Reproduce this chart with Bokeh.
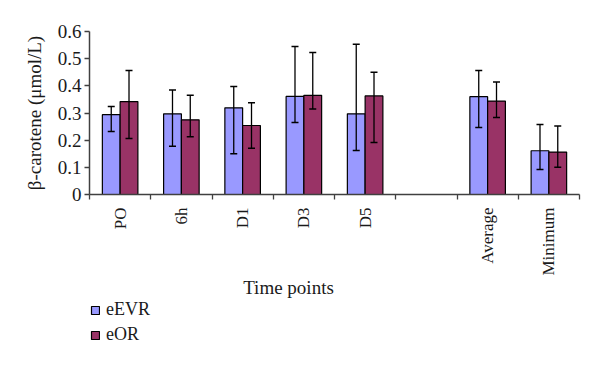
import math
from bokeh.plotting import figure
from bokeh.layouts import column
from bokeh.models import (ColumnDataSource, Whisker, TeeHead, FixedTicker, Range1d,
                          Legend, LegendItem, Label)
from bokeh.embed import file_html
from bokeh.resources import INLINE

slots = ["PO", "6h", "D1", "D3", "D5", "", "Average", "Minimum"]
categories = ["PO", "6h", "D1", "D3", "D5", "Average", "Minimum"]
series = ["eEVR", "eOR"]
colors = ["#9999FF", "#993366"]
evr_mean = [0.294, 0.297, 0.319, 0.361, 0.297, 0.360, 0.161]
evr_low = [0.232, 0.178, 0.150, 0.265, 0.162, 0.247, 0.092]
evr_high = [0.324, 0.385, 0.398, 0.545, 0.553, 0.456, 0.258]
or_mean = [0.342, 0.275, 0.254, 0.365, 0.363, 0.344, 0.156]
or_low = [0.206, 0.213, 0.170, 0.315, 0.191, 0.283, 0.100]
or_high = [0.456, 0.365, 0.338, 0.523, 0.450, 0.414, 0.252]
y_ticks = [0, 0.1, 0.2, 0.3, 0.4, 0.5, 0.6]
x_title = "Time points"
y_title = "β-carotene (μmol/L)"

FONT = "Liberation Serif"
TXT = "#1a1a1a"
AX = "#404040"
BW = 0.29
LEFT = 89
centers = [slots.index(c) + 0.5 for c in categories]

p = figure(width=592, height=278, output_backend="svg", toolbar_location=None,
           x_range=Range1d(0, len(slots)), y_range=Range1d(0, 0.6),
           min_border_left=LEFT, min_border_right=13, min_border_top=31,
           min_border_bottom=84)
p.outline_line_color = None
p.grid.visible = False
p.background_fill_color = "white"

s1 = ColumnDataSource(dict(x=[c - BW / 2 for c in centers], top=evr_mean,
                           lo=evr_low, hi=evr_high))
s2 = ColumnDataSource(dict(x=[c + BW / 2 for c in centers], top=or_mean,
                           lo=or_low, hi=or_high))
sources = [s1, s2]
for s, col in zip(sources, colors):
    p.vbar(x="x", top="top", width=BW, source=s, fill_color=col,
           line_color="black", line_width=1.2)
    w = Whisker(base="x", lower="lo", upper="hi", source=s, level="overlay",
                line_color="black", line_width=1.3,
                upper_head=TeeHead(size=7, line_color="black", line_width=1.5),
                lower_head=TeeHead(size=7, line_color="black", line_width=1.5))
    p.add_layout(w)

# x axis
xa = p.xaxis[0]
xa.ticker = FixedTicker(ticks=[i + 0.5 for i in range(len(slots))],
                        minor_ticks=list(range(len(slots) + 1)))
xa.major_label_overrides = {i + 0.5: s if s else " " for i, s in enumerate(slots)}
xa.major_tick_out = 0
xa.major_tick_in = 0
xa.minor_tick_out = 5
xa.minor_tick_in = 0
xa.minor_tick_line_color = AX
xa.minor_tick_line_width = 1.3
xa.major_label_orientation = math.pi / 2
xa.major_label_text_font = FONT
xa.major_label_text_font_size = "17px"
xa.major_label_text_color = TXT
xa.major_label_standoff = 8
xa.axis_line_color = AX
xa.axis_line_width = 1.5

# y axis
ya = p.yaxis[0]
ya.ticker = FixedTicker(ticks=y_ticks)
ya.major_label_overrides = {t: ("0" if t == 0 else f"{t:.1f}") for t in y_ticks}
ya.minor_tick_line_color = None
ya.major_tick_out = 5
ya.major_tick_in = 0
ya.major_tick_line_color = AX
ya.major_tick_line_width = 1.3
ya.axis_line_color = AX
ya.axis_line_width = 1.5
ya.major_label_text_font = FONT
ya.major_label_text_font_size = "19px"
ya.major_label_text_color = TXT
ya.major_label_standoff = 3
ya.axis_label = y_title
ya.axis_label_text_font = FONT
ya.axis_label_text_font_size = "19px"
ya.axis_label_text_font_style = "normal"
ya.axis_label_text_color = TXT
ya.axis_label_standoff = 10

# strip below the chart: x-axis title and legend (frame aligned with chart frame)
SH = 79
lf = figure(width=592, height=SH, output_backend="svg", toolbar_location=None,
            x_range=Range1d(0, 592), y_range=Range1d(0, SH),
            x_axis_location=None, y_axis_location=None,
            min_border=0, outline_line_color=None)
lf.grid.visible = False
lf.add_layout(Label(x=288 - LEFT, y=SH - 9, x_units="screen", y_units="screen",
                    text=x_title, text_font=FONT, text_font_size="19px",
                    text_color=TXT, text_align="center", text_baseline="middle"))
items = []
for name, col, s in zip(series, colors, sources):
    r = lf.vbar(x="x", top="top", width=BW, source=s, fill_color=col,
                line_color="black", line_width=1.2, visible=False)
    items.append(LegendItem(label=name, renderers=[r]))
legend = Legend(items=items, location=(1, 12), orientation="vertical",
                label_text_font=FONT, label_text_font_size="18px",
                label_text_color=TXT, border_line_color=None,
                background_fill_alpha=0, glyph_width=10, glyph_height=10,
                label_standoff=6, spacing=4, padding=0, margin=0)
lf.add_layout(legend)

open("out.html", "w").write(file_html(column(p, lf, spacing=0), INLINE))
